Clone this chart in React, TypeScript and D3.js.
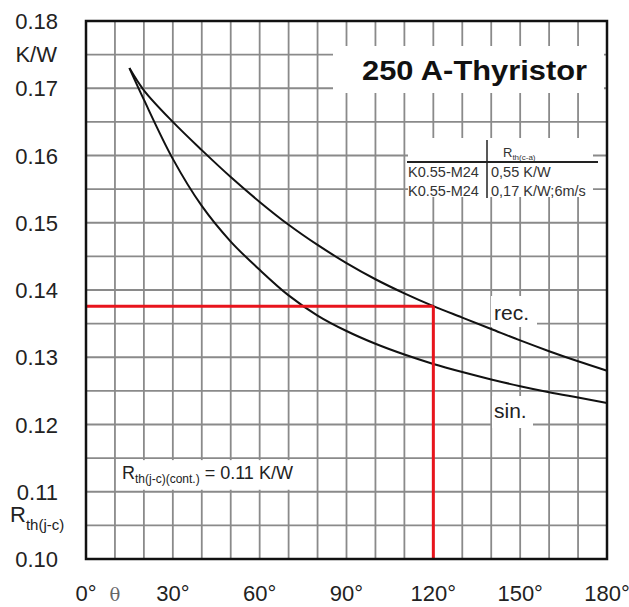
import React from 'react';
import * as d3 from 'd3';

// conduction angle (deg) and Rth(j-c) in K/W
const angles = [15, 20, 30, 40, 50, 60, 70, 80, 90, 100, 110, 120, 130, 140, 150, 160, 170, 180];
const recValues = [0.173, 0.1697, 0.165, 0.1608, 0.1568, 0.1531, 0.1497, 0.1467, 0.144, 0.1416, 0.1395, 0.1376, 0.1359, 0.1342, 0.1325, 0.1309, 0.1294, 0.128];
const sinValues = [0.173, 0.1683, 0.1595, 0.1525, 0.1472, 0.143, 0.1392, 0.1362, 0.1339, 0.132, 0.1304, 0.129, 0.1278, 0.1267, 0.1257, 0.1248, 0.124, 0.1232];

const yTicks = [0.18, 0.17, 0.16, 0.15, 0.14, 0.13, 0.12, 0.11, 0.10];
const xTicks = [0, 10, 30, 60, 90, 120, 150, 180];
const xTickLabels = ['0°', 'θ', '30°', '60°', '90°', '120°', '150°', '180°'];

const refAngle = 120;
const refValue = 0.1376;

const tableRows = [
  ['K0.55-M24', '0,55 K/W'],
  ['K0.55-M24', '0,17 K/W;6m/s'],
];

const W = 629;
const H = 607;
const pad = { top: 21, right: 22, bottom: 48, left: 86 };
const FONT = 'Liberation Sans, Arial, sans-serif';

export default function App() {
  const x = d3.scaleLinear().domain([0, 180]).range([pad.left, W - pad.right]);
  const y = d3.scaleLinear().domain([0.10, 0.18]).range([H - pad.bottom, pad.top]);

  const gridX = d3.range(0, 181, 10);
  const gridY = d3.range(0, 17).map((i) => 0.10 + i * 0.005);

  const line = d3
    .line<number>()
    .x((_, i) => x(angles[i]))
    .y((d) => y(d))
    .curve(d3.curveCatmullRom.alpha(0.5));

  const x0 = x(0);
  const x1 = x(180);
  const y0 = y(0.10);
  const y1 = y(0.18);

  return (
    <svg
      width={W}
      height={H}
      viewBox={`0 0 ${W} ${H}`}
      style={{ position: 'absolute', left: 0, top: 0, background: '#fff' }}
      fontFamily={FONT}
    >
      <g className="grid" stroke="#8a8a8a" strokeWidth={1.8}>
        {gridX.map((d) => (
          <line key={`gx${d}`} x1={x(d)} x2={x(d)} y1={y1} y2={y0} />
        ))}
        {gridY.map((d, i) => (
          <line key={`gy${i}`} x1={x0} x2={x1} y1={y(d)} y2={y(d)} />
        ))}
      </g>

      {/* white boxes behind the labels inside the plot */}
      <g fill="#fff">
        <rect x={333} y={46} width={271} height={47} />
        <rect x={408} y={138} width={185} height={59} />
        <rect x={x(10) + 2} y={y(0.115) + 2} width={x(80) - x(10) - 4} height={y(0.11) - y(0.115) - 4} />
        <rect x={491} y={296} width={46} height={31} />
        <rect x={492} y={396} width={41} height={32} />
      </g>

      <text x={362} y={80} fontSize={27} fontWeight="bold" fill="#111" textLength={225} lengthAdjust="spacingAndGlyphs">
        250 A-Thyristor
      </text>

      <g className="table" fill="#333" fontSize={14.5}>
        <text x={503} y={157} fontSize={13}>
          R<tspan fontSize={8} dy={3}>th(c-a)</tspan>
        </text>
        <line x1={407} x2={598} y1={162} y2={162} stroke="#222" strokeWidth={2} />
        <line x1={487} x2={487} y1={140} y2={198} stroke="#222" strokeWidth={1.5} />
        {tableRows.map((row, i) => (
          <g key={i}>
            <text x={408} y={177 + i * 19}>{row[0]}</text>
            <text x={491} y={177 + i * 19}>{row[1]}</text>
          </g>
        ))}
      </g>

      <text x={122} y={479} fontSize={18} fill="#222">
        R<tspan fontSize={12} dy={4}>th(j-c)(cont.)</tspan>
        <tspan dy={-4}> = 0.11 K/W</tspan>
      </text>

      <g className="curves" fill="none" stroke="#111" strokeWidth={2}>
        <path d={line(recValues) || ''} />
        <path d={line(sinValues) || ''} />
      </g>

      <text x={494} y={320} fontSize={21} fill="#222">rec.</text>
      <text x={494} y={418} fontSize={21} fill="#222">sin.</text>

      <g className="marker" fill="none" stroke="#e8141c" strokeWidth={3}>
        <line x1={x0} x2={x(refAngle)} y1={y(refValue)} y2={y(refValue)} />
        <line x1={x(refAngle)} x2={x(refAngle)} y1={y(refValue)} y2={y0} />
      </g>

      <rect x={x0} y={y1} width={x1 - x0} height={y0 - y1} fill="none" stroke="#111" strokeWidth={2.5} />

      <g className="y-axis" fontSize={22} fill="#222" textAnchor="end">
        {yTicks.map((d) => (
          <text key={d} x={58} y={y(d) + 8}>{d.toFixed(2)}</text>
        ))}
        <text x={57} y={y(0.175) + 7.5}>K/W</text>
      </g>
      <text x={10} y={y(0.105) - 3} fontSize={22} fill="#222">
        R<tspan fontSize={15} dy={8}>th(j-c)</tspan>
      </text>

      <g className="x-axis" fontSize={22} fill="#222" textAnchor="middle">
        {xTicks.map((d, i) => (
          <text
            key={d}
            x={x(d)}
            y={601}
            fill={xTickLabels[i] === 'θ' ? '#666' : '#222'}
            fontFamily={xTickLabels[i] === 'θ' ? 'DejaVu Serif, serif' : FONT}
            fontSize={xTickLabels[i] === 'θ' ? 18 : 22}
          >
            {xTickLabels[i]}
          </text>
        ))}
      </g>
    </svg>
  );
}
